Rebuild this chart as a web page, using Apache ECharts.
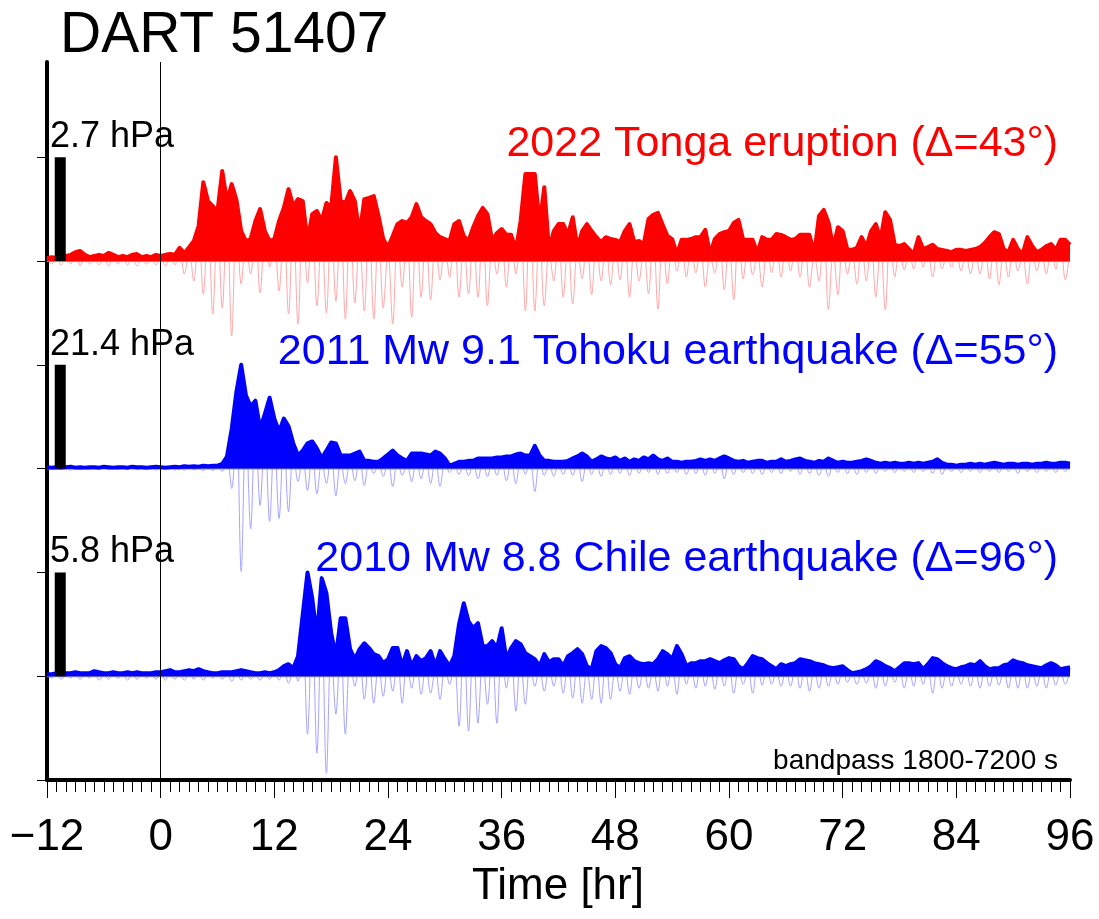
<!DOCTYPE html>
<html>
<head>
<meta charset="utf-8">
<script src="https://cdn.jsdelivr.net/npm/echarts@6/dist/echarts.min.js"></script>
<style>
  html, body { margin: 0; padding: 0; background: #ffffff; }
  #chart { width: 1099px; height: 919px; }
</style>
</head>
<body>
<div id="chart"></div>
<script>
// ---- Pressure records at DART 51407, bandpass 1800-7200 s, in hPa ----
// Samples every half hour, starting 12 h before the source time.
const START_HOUR = -12;
const STEP_HOUR = 0.5;

const X_TICKS = [-12, 0, 12, 24, 36, 48, 60, 72, 84, 96];

// Scale bar of each record (hPa) = its peak amplitude
const TONGA_SCALE = 2.7;
const TOHOKU_SCALE = 21.4;
const CHILE_SCALE = 5.8;

// Upper envelope (thick trace)
const TONGA_ENV = [
  0.08,0.10,0.08,0.10,0.13,0.16,0.23,0.26,0.16,0.10,
  0.13,0.16,0.13,0.21,0.16,0.10,0.13,0.10,0.16,0.18,
  0.10,0.13,0.10,0.16,0.13,0.16,0.18,0.16,0.34,0.21,
  0.36,0.52,0.91,2.05,1.56,1.43,1.30,2.34,1.56,2.00,
  1.59,0.78,0.52,0.57,1.04,1.35,0.78,0.52,0.57,1.04,
  1.38,1.87,1.43,1.61,1.56,0.52,1.22,1.30,1.04,1.51,
  1.38,2.70,1.56,1.51,1.82,1.56,0.70,1.61,1.64,1.69,
  1.17,0.57,0.36,0.65,0.96,1.04,0.99,1.14,1.48,1.14,
  1.04,0.96,0.73,0.62,0.57,0.52,0.96,1.04,0.65,0.52,
  0.88,1.17,1.38,1.22,0.52,0.73,0.83,0.68,0.68,0.29,
  1.04,2.26,2.26,2.26,0.96,1.92,0.29,0.78,0.96,0.96,
  0.68,1.14,0.36,0.78,0.96,0.78,0.62,0.49,0.62,0.57,
  0.55,0.49,0.78,0.96,0.49,0.52,0.44,1.09,1.20,1.25,
  0.94,0.65,0.57,0.18,0.55,0.55,0.57,0.62,0.62,0.81,
  0.18,0.57,0.70,0.75,0.78,0.99,1.07,0.55,0.55,0.55,
  0.21,0.62,0.55,0.55,0.70,0.68,0.62,0.55,0.57,0.68,
  0.68,0.68,0.18,1.17,1.33,1.01,0.36,0.88,0.78,0.29,
  0.29,0.34,0.62,0.36,0.78,0.96,0.57,1.27,1.07,0.42,
  0.39,0.44,0.31,0.18,0.62,0.31,0.36,0.42,0.31,0.29,
  0.26,0.23,0.29,0.29,0.26,0.29,0.31,0.36,0.47,0.62,
  0.75,0.70,0.31,0.23,0.55,0.31,0.18,0.62,0.39,0.23,
  0.29,0.39,0.44,0.29,0.55,0.55,0.42
];

// Filtered pressure (thin trace)
const TONGA_SIG = [
  0.06,-0.08,0.06,-0.10,0.10,-0.08,0.18,-0.13,0.13,-0.08,
  0.10,-0.10,0.10,-0.13,0.13,-0.08,0.10,-0.10,0.13,-0.13,
  0.08,-0.08,0.08,-0.10,0.10,-0.13,0.14,-0.10,0.27,-0.34,
  0.29,-0.52,0.73,-0.86,1.25,-1.38,1.04,-1.22,1.25,-1.95,
  1.27,-0.60,0.42,-0.34,0.83,-0.83,0.62,-0.16,0.46,-0.78,
  1.10,-1.38,1.14,-1.64,1.25,-0.57,0.98,-1.17,0.83,-1.35,
  1.10,-1.04,1.25,-1.51,1.46,-1.09,0.56,-1.30,1.31,-1.51,
  0.94,-1.22,0.29,-1.64,0.77,-0.68,0.79,-1.46,1.18,-0.94,
  0.83,-1.01,0.58,-0.49,0.46,-0.42,0.77,-0.94,0.52,-0.86,
  0.70,-0.94,1.10,-1.17,0.42,-0.34,0.66,-0.68,0.54,-0.34,
  0.83,-1.30,1.81,-1.30,0.77,-1.17,0.23,-0.52,0.77,-0.94,
  0.54,-1.12,0.29,-0.47,0.77,-0.88,0.50,-0.52,0.50,-0.62,
  0.44,-0.49,0.62,-0.94,0.39,-0.52,0.35,-0.86,0.96,-1.25,
  0.75,-0.60,0.46,-0.26,0.44,-0.42,0.46,-0.31,0.50,-0.68,
  0.14,-0.31,0.56,-0.75,0.62,-1.01,0.86,-0.47,0.44,-0.36,
  0.17,-0.68,0.44,-0.31,0.56,-0.42,0.50,-0.26,0.46,-0.42,
  0.54,-0.68,0.14,-0.52,1.06,-1.27,0.29,-0.88,0.62,-0.34,
  0.23,-0.60,0.50,-0.52,0.62,-0.94,0.46,-1.27,0.86,-0.42,
  0.31,-0.23,0.25,-0.21,0.50,-0.16,0.29,-0.42,0.25,-0.21,
  0.21,-0.16,0.23,-0.26,0.21,-0.34,0.25,-0.34,0.38,-0.47,
  0.60,-0.62,0.25,-0.42,0.44,-0.26,0.14,-0.60,0.31,-0.26,
  0.23,-0.34,0.35,-0.21,0.44,-0.49,0.34
];

const TOHOKU_ENV = [
  0.3,0.2,0.3,0.2,0.3,0.4,0.2,0.3,0.2,0.3,
  0.3,0.2,0.4,0.3,0.2,0.3,0.3,0.2,0.4,0.3,
  0.3,0.2,0.3,0.4,0.3,0.2,0.3,0.4,0.3,0.5,
  0.4,0.5,0.4,0.6,0.5,0.6,0.6,1.0,2.5,8.2,
  15.9,21.4,15.1,12.8,14.0,8.2,11.3,14.6,10.3,7.6,
  10.3,8.7,5.2,2.7,3.7,5.2,5.6,4.1,2.1,3.7,
  5.4,5.2,2.7,2.7,2.7,3.1,3.5,1.6,1.6,1.4,
  1.4,2.1,2.9,3.7,2.7,2.1,1.6,3.1,3.1,3.1,
  2.9,2.7,3.5,3.1,2.1,0.6,1.0,1.4,1.4,1.6,
  1.6,2.1,2.1,2.1,2.1,2.3,2.3,2.5,2.5,2.9,
  3.1,2.7,2.7,4.7,2.7,1.6,1.6,1.4,1.4,1.4,
  1.6,2.1,2.5,3.1,2.5,1.4,1.9,2.5,2.1,1.9,
  2.3,1.6,2.1,1.4,1.9,1.6,2.3,1.9,2.7,1.9,
  1.6,2.1,1.4,1.4,1.2,1.4,1.4,1.6,1.9,1.6,
  1.9,1.6,2.1,2.5,2.1,1.6,1.4,1.6,1.2,1.4,
  1.6,1.6,1.2,1.4,1.4,1.9,1.4,1.6,1.9,2.1,
  1.6,1.4,1.2,1.6,1.4,2.1,1.6,1.2,1.4,1.2,
  1.2,1.4,1.6,1.9,1.6,1.2,1.0,1.2,1.0,1.2,
  1.0,1.0,1.2,1.0,1.2,1.0,1.2,1.4,1.9,1.2,
  0.8,0.8,0.6,0.8,0.8,1.0,0.8,1.0,0.8,1.0,
  1.2,1.0,0.8,1.0,1.0,0.8,1.0,1.0,0.8,1.0,
  1.0,1.2,1.0,1.0,1.2,1.2,1.0
];

const TOHOKU_SIG = [
  0.2,-0.2,0.2,-0.2,0.2,-0.3,0.1,-0.2,0.2,-0.2,
  0.2,-0.2,0.3,-0.2,0.1,-0.2,0.2,-0.2,0.3,-0.2,
  0.2,-0.2,0.2,-0.3,0.2,-0.2,0.2,-0.3,0.2,-0.3,
  0.3,-0.3,0.3,-0.4,0.4,-0.4,0.4,-0.6,1.8,-4.1,
  11.2,-21.2,10.6,-12.4,9.8,-7.6,7.9,-10.9,7.2,-10.3,
  7.2,-8.9,3.6,-2.7,2.6,-4.5,3.9,-5.2,1.5,-3.1,
  3.8,-5.6,1.9,-3.1,1.9,-2.5,2.5,-3.5,1.1,-1.0,
  1.0,-1.6,2.0,-3.7,1.9,-1.4,1.1,-2.7,2.2,-2.1,
  2.0,-3.1,2.5,-3.7,1.5,-0.8,0.7,-1.2,1.0,-1.4,
  1.1,-2.1,1.5,-1.6,1.5,-1.4,1.6,-2.5,1.8,-3.1,
  2.2,-1.2,1.9,-4.7,1.9,-1.4,1.1,-1.6,1.0,-1.2,
  1.1,-1.4,1.8,-2.7,1.8,-1.2,1.3,-1.6,1.5,-1.2,
  1.6,-1.0,1.5,-1.4,1.3,-1.0,1.6,-0.8,1.9,-1.2,
  1.1,-1.0,1.0,-0.8,0.8,-1.2,1.0,-1.0,1.3,-1.4,
  1.3,-1.0,1.5,-2.1,1.5,-1.2,1.0,-0.8,0.8,-1.0,
  1.1,-1.2,0.8,-0.8,1.0,-1.0,1.0,-0.6,1.3,-1.2,
  1.1,-1.0,0.8,-1.4,1.0,-1.6,1.1,-0.8,1.0,-1.0,
  0.8,-1.2,1.1,-0.8,1.1,-1.0,0.7,-0.6,0.7,-0.8,
  0.7,-0.6,0.8,-0.8,0.8,-0.6,0.8,-1.0,1.3,-1.2,
  0.6,-0.6,0.4,-0.8,0.6,-0.6,0.6,-0.8,0.6,-0.6,
  0.8,-0.8,0.6,-0.6,0.7,-1.0,0.7,-0.6,0.6,-0.8,
  0.7,-0.6,0.7,-0.8,0.8,-0.6,0.7
];

const CHILE_ENV = [
  0.11,0.11,0.17,0.11,0.17,0.17,0.22,0.17,0.17,0.17,
  0.28,0.22,0.17,0.17,0.22,0.17,0.17,0.22,0.17,0.22,
  0.17,0.17,0.17,0.22,0.22,0.28,0.34,0.22,0.22,0.28,
  0.34,0.28,0.39,0.28,0.22,0.17,0.17,0.22,0.22,0.22,
  0.28,0.34,0.28,0.22,0.17,0.17,0.22,0.17,0.22,0.34,
  0.56,0.67,0.45,1.12,3.47,5.80,4.36,2.24,5.48,4.64,
  2.40,1.12,3.24,3.24,1.51,0.95,1.51,1.84,1.57,1.23,
  1.12,0.73,0.95,1.57,1.57,0.56,1.40,0.56,1.12,0.84,
  1.01,1.40,0.56,1.40,0.95,0.56,1.12,2.91,4.08,3.07,
  2.68,2.96,1.68,1.68,1.96,1.57,2.68,0.95,1.57,1.96,
  1.79,1.29,1.12,0.95,0.56,1.23,0.78,0.95,0.95,0.56,
  1.12,1.29,1.51,1.23,0.56,0.39,1.40,1.68,1.57,1.29,
  0.67,0.45,1.01,1.12,0.84,0.73,0.67,0.73,0.67,0.95,
  1.40,1.23,0.95,1.68,1.23,0.56,0.73,0.73,0.84,0.84,
  0.95,0.84,0.73,0.89,1.01,0.95,0.56,0.39,0.73,1.12,
  1.01,0.95,0.73,0.56,0.39,0.67,0.56,0.67,0.73,0.95,
  0.89,0.84,0.73,0.67,0.61,0.50,0.45,0.50,0.56,0.34,
  0.17,0.22,0.28,0.39,0.56,0.84,0.73,0.56,0.45,0.28,
  0.50,0.73,0.73,0.67,0.73,0.39,0.67,1.01,0.95,0.73,
  0.56,0.45,0.39,0.50,0.56,0.67,0.61,0.84,0.56,0.39,
  0.45,0.45,0.61,0.67,0.89,0.78,0.73,0.61,0.56,0.50,
  0.45,0.61,0.73,0.61,0.39,0.45,0.50
];

const CHILE_SIG = [
  0.08,-0.11,0.11,-0.17,0.11,-0.11,0.15,-0.17,0.11,-0.11,
  0.20,-0.22,0.11,-0.17,0.15,-0.11,0.11,-0.22,0.11,-0.17,
  0.11,-0.11,0.11,-0.17,0.15,-0.22,0.24,-0.17,0.15,-0.22,
  0.24,-0.17,0.27,-0.22,0.15,-0.11,0.11,-0.17,0.15,-0.28,
  0.20,-0.22,0.20,-0.17,0.11,-0.22,0.15,-0.17,0.15,-0.22,
  0.39,-0.39,0.31,-0.28,2.43,-3.24,3.05,-4.30,3.84,-5.42,
  1.68,-2.12,2.27,-3.24,1.06,-0.56,1.06,-1.29,1.10,-1.51,
  0.78,-1.12,0.66,-0.84,1.10,-1.51,0.98,-0.67,0.78,-1.01,
  0.71,-0.95,0.39,-1.29,0.66,-0.45,0.78,-2.80,2.86,-3.07,
  1.88,-2.63,1.18,-1.57,1.37,-2.63,1.88,-0.67,1.10,-1.96,
  1.25,-1.57,0.78,-0.56,0.39,-0.84,0.55,-0.56,0.66,-0.95,
  0.78,-1.23,1.06,-1.51,0.39,-1.29,0.98,-1.51,1.10,-1.29,
  0.47,-0.84,0.71,-1.01,0.59,-0.67,0.47,-0.67,0.47,-0.84,
  0.98,-0.56,0.66,-1.01,0.86,-0.45,0.51,-0.67,0.59,-0.56,
  0.66,-0.73,0.51,-0.56,0.71,-0.95,0.39,-0.45,0.51,-0.95,
  0.71,-0.50,0.51,-0.45,0.27,-0.56,0.39,-0.56,0.51,-0.67,
  0.62,-0.84,0.51,-0.67,0.43,-0.56,0.31,-0.45,0.39,-0.34,
  0.12,-0.45,0.20,-0.39,0.39,-0.67,0.51,-0.56,0.31,-0.34,
  0.35,-0.67,0.51,-0.56,0.51,-0.45,0.47,-0.95,0.66,-0.67,
  0.39,-0.56,0.27,-0.45,0.39,-0.56,0.43,-0.67,0.39,-0.56,
  0.31,-0.50,0.43,-0.67,0.62,-0.67,0.51,-0.67,0.39,-0.56,
  0.31,-0.67,0.51,-0.50,0.27,-0.45,0.35
];

// ---- layout ----
const W = 1099, H = 919;
const PLOT_LEFT = 47, PLOT_RIGHT = 1070;
const PLOT_TOP = 62, AXIS_Y = 780;
const SLOT = 103.8;              // pixels per scale bar / trace spacing
const BAR_HOUR = -10.6;          // horizontal position of the scale bars
const FONT = '"Liberation Sans", Arial, Helvetica, sans-serif';

const hourOf = i => START_HOUR + i * STEP_HOUR;
const toPairs = arr => arr.map((v, i) => [hourOf(i), v]);

const traces = [
  { env: TONGA_ENV,  sig: TONGA_SIG,  scale: TONGA_SCALE,  slot: 2,
    color: '#ff0000', light: '#ffa8a8', title: '2022 Tonga eruption (\u0394=43\u00b0)' },
  { env: TOHOKU_ENV, sig: TOHOKU_SIG, scale: TOHOKU_SCALE, slot: 1,
    color: '#0000ff', light: '#a4a4ff', title: '2011 Mw 9.1 Tohoku earthquake (\u0394=55\u00b0)' },
  { env: CHILE_ENV,  sig: CHILE_SIG,  scale: CHILE_SCALE,  slot: 0,
    color: '#0000ff', light: '#a4a4ff', title: '2010 Mw 8.8 Chile earthquake (\u0394=96\u00b0)' }
];

const baselineY = t => AXIS_Y - (2 * t.slot + 1) * SLOT;

const grids = [{
  left: PLOT_LEFT, right: W - PLOT_RIGHT, top: PLOT_TOP, bottom: H - AXIS_Y
}];
const xAxes = [{
  type: 'value', gridIndex: 0, min: X_TICKS[0], max: X_TICKS[X_TICKS.length - 1],
  interval: X_TICKS[1] - X_TICKS[0],
  axisLine: { show: true, onZero: false, lineStyle: { color: '#000', width: 4 } },
  axisTick: { show: true, length: 18, lineStyle: { color: '#000', width: 1 } },
  minorTick: { show: true, splitNumber: 12, length: 12, lineStyle: { color: '#000', width: 1 } },
  splitLine: { show: false },
  axisLabel: {
    margin: 36, fontSize: 44, color: '#000', fontFamily: FONT,
    formatter: v => (v < 0 ? '\u2212' + (-v) : String(v))
  }
}];
const FRAME_MAX = (AXIS_Y - PLOT_TOP) / SLOT;
const yAxes = [{
  type: 'value', gridIndex: 0, min: 0, max: FRAME_MAX,
  axisLine: { show: true, onZero: false, lineStyle: { color: '#000', width: 4 } },
  axisTick: { show: true, length: 10, lineStyle: { color: '#000', width: 1 },
              customValues: [0, 1, 2, 3, 4, 5, 6] },
  axisLabel: { show: false },
  splitLine: { show: false }
}];

const series = [{
  type: 'line', xAxisIndex: 0, yAxisIndex: 0, data: [], silent: true,
  markLine: {
    silent: true, symbol: ['none', 'none'], label: { show: false },
    lineStyle: { color: '#000', width: 1, type: 'solid' },
    data: [{ xAxis: 0 }]
  }
}];

const graphics = [];

traces.forEach((t, k) => {
  const gi = k + 1;
  const base = baselineY(t);
  grids.push({ left: PLOT_LEFT, right: W - PLOT_RIGHT, top: base - SLOT, height: 2 * SLOT });
  xAxes.push({ type: 'value', gridIndex: gi, min: X_TICKS[0], max: X_TICKS[X_TICKS.length - 1], show: false });
  yAxes.push({ type: 'value', gridIndex: gi, min: -t.scale, max: t.scale, show: false });

  // zero line
  series.push({
    type: 'line', xAxisIndex: gi, yAxisIndex: gi, silent: true, symbol: 'none', z: 3,
    data: [[X_TICKS[0], 0], [X_TICKS[X_TICKS.length - 1], 0]],
    lineStyle: { color: '#8c8c8c', width: 2 }
  });
  // filtered pressure
  series.push({
    type: 'line', xAxisIndex: gi, yAxisIndex: gi, silent: true, symbol: 'none', z: 2,
    data: toPairs(t.sig), smooth: 0.35, clip: false,
    lineStyle: { color: t.light, width: 1 }
  });
  // envelope
  series.push({
    type: 'line', xAxisIndex: gi, yAxisIndex: gi, silent: true, symbol: 'none', z: 4,
    data: toPairs(t.env), clip: false,
    lineStyle: { color: t.color, width: 4, join: 'round' },
    areaStyle: { color: t.color, opacity: 1 }
  });
  // scale bar
  series.push({
    type: 'line', xAxisIndex: gi, yAxisIndex: gi, silent: true, symbol: 'none', z: 5,
    data: [[BAR_HOUR, 0], [BAR_HOUR, t.scale]], clip: false,
    lineStyle: { color: '#000', width: 11, cap: 'butt' }
  });

  graphics.push({
    type: 'text', x: 50, y: base - SLOT - 20, z: 10,
    style: { text: t.scale + ' hPa', fontSize: 36, fontFamily: FONT, fill: '#000',
             verticalAlign: 'middle', align: 'left' }
  });
  graphics.push({
    type: 'text', x: 1058, y: base - SLOT - 13, z: 10,
    style: { text: t.title, fontSize: 43, fontFamily: FONT, fill: t.color,
             verticalAlign: 'middle', align: 'right' }
  });
});

graphics.push({
  type: 'text', x: 60, y: 36, z: 10,
  style: { text: 'DART 51407', fontSize: 57, fontFamily: FONT, fill: '#000',
           verticalAlign: 'middle', align: 'left' }
});
graphics.push({
  type: 'text', x: 1058, y: 761, z: 10,
  style: { text: 'bandpass 1800-7200 s', fontSize: 28, fontFamily: FONT, fill: '#000',
           verticalAlign: 'middle', align: 'right' }
});
graphics.push({
  type: 'text', x: 558, y: 887, z: 10,
  style: { text: 'Time [hr]', fontSize: 44, fontFamily: FONT, fill: '#000',
           verticalAlign: 'middle', align: 'center' }
});

const chart = echarts.init(document.getElementById('chart'), null, { renderer: 'canvas' });
chart.setOption({
  animation: false,
  backgroundColor: '#ffffff',
  grid: grids,
  xAxis: xAxes,
  yAxis: yAxes,
  series: series,
  graphic: graphics
});
</script>
</body>
</html>
